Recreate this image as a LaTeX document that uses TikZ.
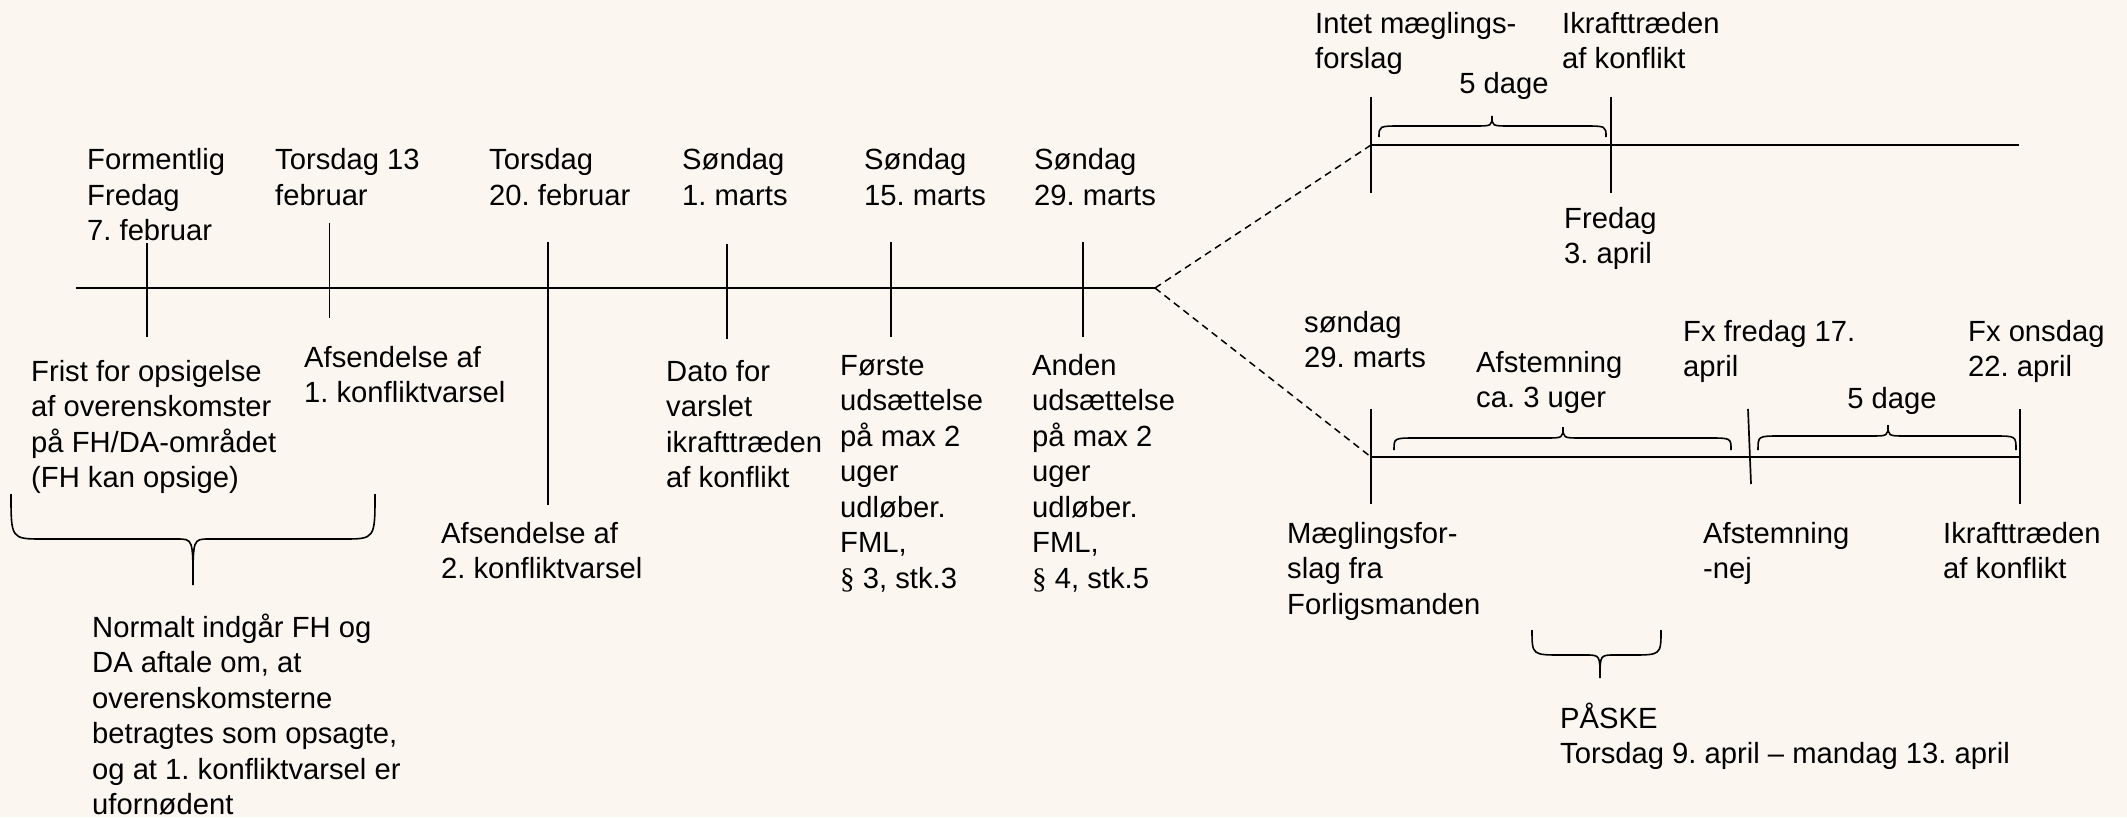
\documentclass[tikz,border=0pt]{standalone}
\usepackage{fontspec}
\setmainfont{Liberation Sans}
\newfontfamily\sersym{Liberation Serif}
\definecolor{bg}{RGB}{251,247,240}
\frenchspacing
\newcommand\tl[1]{\vtop{\let\\\cr\halign{##\hfil\cr#1\crcr}}}
\newcommand\curly[8]{%
  \draw[bracestyle] (#1,#3) .. controls (#1,#4) .. (#1+#7,#4) -- (#5-#8,#4)
    .. controls (#5,#4) .. (#5,#6) .. controls (#5,#4) .. (#5+#8,#4)
    -- (#2-#7,#4) .. controls (#2,#4) .. (#2,#3);}
\begin{document}
\begin{tikzpicture}[x=1pt,y=-1pt,
  lbl/.style={inner sep=0pt, anchor=base west, font=\fontsize{29.2}{35.5}\selectfont},
  clbl/.style={lbl, anchor=base},
  axis/.style={line width=2pt},
  tick/.style={line width=1.7pt},
  dashline/.style={line width=1.5pt, dash pattern=on 7pt off 5pt},
  bracestyle/.style={line width=1.6pt}]
\fill[bg] (0,0) rectangle (2127,817);
\useasboundingbox (0,0) rectangle (2127,817);

% main timeline
\coordinate (m0) at (76,288);
\coordinate (fork) at (1155,288);
\draw[axis] (m0) -- (fork);
\coordinate (a1) at (147,243);   \coordinate (b1) at (147,337);
\coordinate (a2) at (329.5,223); \coordinate (b2) at (329.5,318);
\coordinate (a3) at (548,242);   \coordinate (b3) at (548,505);
\coordinate (a4) at (727,244);   \coordinate (b4) at (727,339);
\coordinate (a5) at (891,242);   \coordinate (b5) at (891,337);
\coordinate (a6) at (1083,242);  \coordinate (b6) at (1083,337);
\foreach \i in {1,...,6} {\draw[tick] (a\i) -- (b\i);}

% upper branch
\coordinate (u0) at (1371,145);
\coordinate (uend) at (2019,145);
\draw[axis] (u0) -- (uend);
\coordinate (ua1) at (1371,97);  \coordinate (ub1) at (1371,193);
\coordinate (ua2) at (1611,97);  \coordinate (ub2) at (1611,193);
\draw[tick] (ua1) -- (ub1);
\draw[tick] (ua2) -- (ub2);
\draw[dashline] (fork) -- (u0);

% lower branch
\coordinate (l0) at (1371,457);
\coordinate (lend) at (2020,457);
\draw[axis] (l0) -- (lend);
\coordinate (la1) at (1371,409);  \coordinate (lb1) at (1371,504);
\coordinate (la2) at (1748,409);  \coordinate (lb2) at (1751,484);
\coordinate (la3) at (2020,409);  \coordinate (lb3) at (2020,504);
\draw[tick] (la1) -- (lb1);
\draw[tick] (la2) -- (lb2);
\draw[tick] (la3) -- (lb3);
\draw[dashline] (fork) -- (l0);

% braces
\curly{11}{375}{494}{539}{193}{585}{32}{16}
\curly{1379}{1606}{137}{126}{1492}{116}{22}{18}
\curly{1394}{1731}{450}{438}{1563}{427}{22}{18}
\curly{1758}{2016}{450}{436}{1888}{425}{22}{18}
\curly{1532}{1661}{630}{655}{1600}{678}{30}{15}

% top labels
\node[lbl] (d1) at (87,169.5) {\tl{Formentlig\\Fredag\\7. februar}};
\node[lbl] (d2) at (275,169.5) {\tl{Torsdag 13\\februar}};
\node[lbl] (d3) at (489,169.5) {\tl{Torsdag\\20. februar}};
\node[lbl] (d4) at (682,169.5) {\tl{Søndag\\1. marts}};
\node[lbl] (d5) at (864,169.5) {\tl{Søndag\\15. marts}};
\node[lbl] (d6) at (1034,169.5) {\tl{Søndag\\29. marts}};

% lower labels
\node[lbl] (e1) at (31,381) {\tl{Frist for opsigelse\\af overenskomster\\på FH/DA-området\\(FH kan opsige)}};
\node[lbl] (e2) at (304,367) {\tl{Afsendelse af\\1. konfliktvarsel}};
\node[lbl] (e3) at (441,543) {\tl{Afsendelse af\\2. konfliktvarsel}};
\node[lbl] (e4) at (666,381) {\tl{Dato for\\varslet\\ikrafttræden\\af konflikt}};
\node[lbl] (e5) at (840,375) {\tl{Første\\udsættelse\\på max 2\\uger\\udløber.\\FML,\\{\sersym §} 3, stk.3}};
\node[lbl] (e6) at (1032,375) {\tl{Anden\\udsættelse\\på max 2\\uger\\udløber.\\FML,\\{\sersym §} 4, stk.5}};
\node[lbl] (note) at (92,637) {\tl{Normalt indgår FH og\\DA aftale om, at\\overenskomsterne\\betragtes som opsagte,\\og at 1. konfliktvarsel er\\ufornødent}};

% upper branch labels
\node[lbl] (f1) at (1315,33) {\tl{Intet mæglings-\\forslag}};
\node[lbl] (f2) at (1562,33) {\tl{Ikrafttræden\\af konflikt}};
\node[clbl] (f3) at (1504,93) {5 dage};
\node[lbl] (f4) at (1564,228) {\tl{Fredag\\3. april}};

% lower branch labels
\node[lbl] (g1) at (1304,332) {\tl{søndag\\29. marts}};
\node[lbl] (g2) at (1476,372) {\tl{Afstemning\\ca. 3 uger}};
\node[lbl] (g3) at (1683,341) {\tl{Fx fredag 17.\\april}};
\node[lbl] (g4) at (1968,341) {\tl{Fx onsdag\\22. april}};
\node[clbl] (g5) at (1892,408) {5 dage};
\node[lbl] (h1) at (1287,543) {\tl{Mæglingsfor-\\slag fra\\Forligsmanden}};
\node[lbl] (h2) at (1703,543) {\tl{Afstemning\\-nej}};
\node[lbl] (h3) at (1943,543) {\tl{Ikrafttræden\\af konflikt}};
\node[lbl] (p1) at (1560,728) {\tl{PÅSKE\\Torsdag 9. april – mandag 13. april}};
\end{tikzpicture}
\end{document}
